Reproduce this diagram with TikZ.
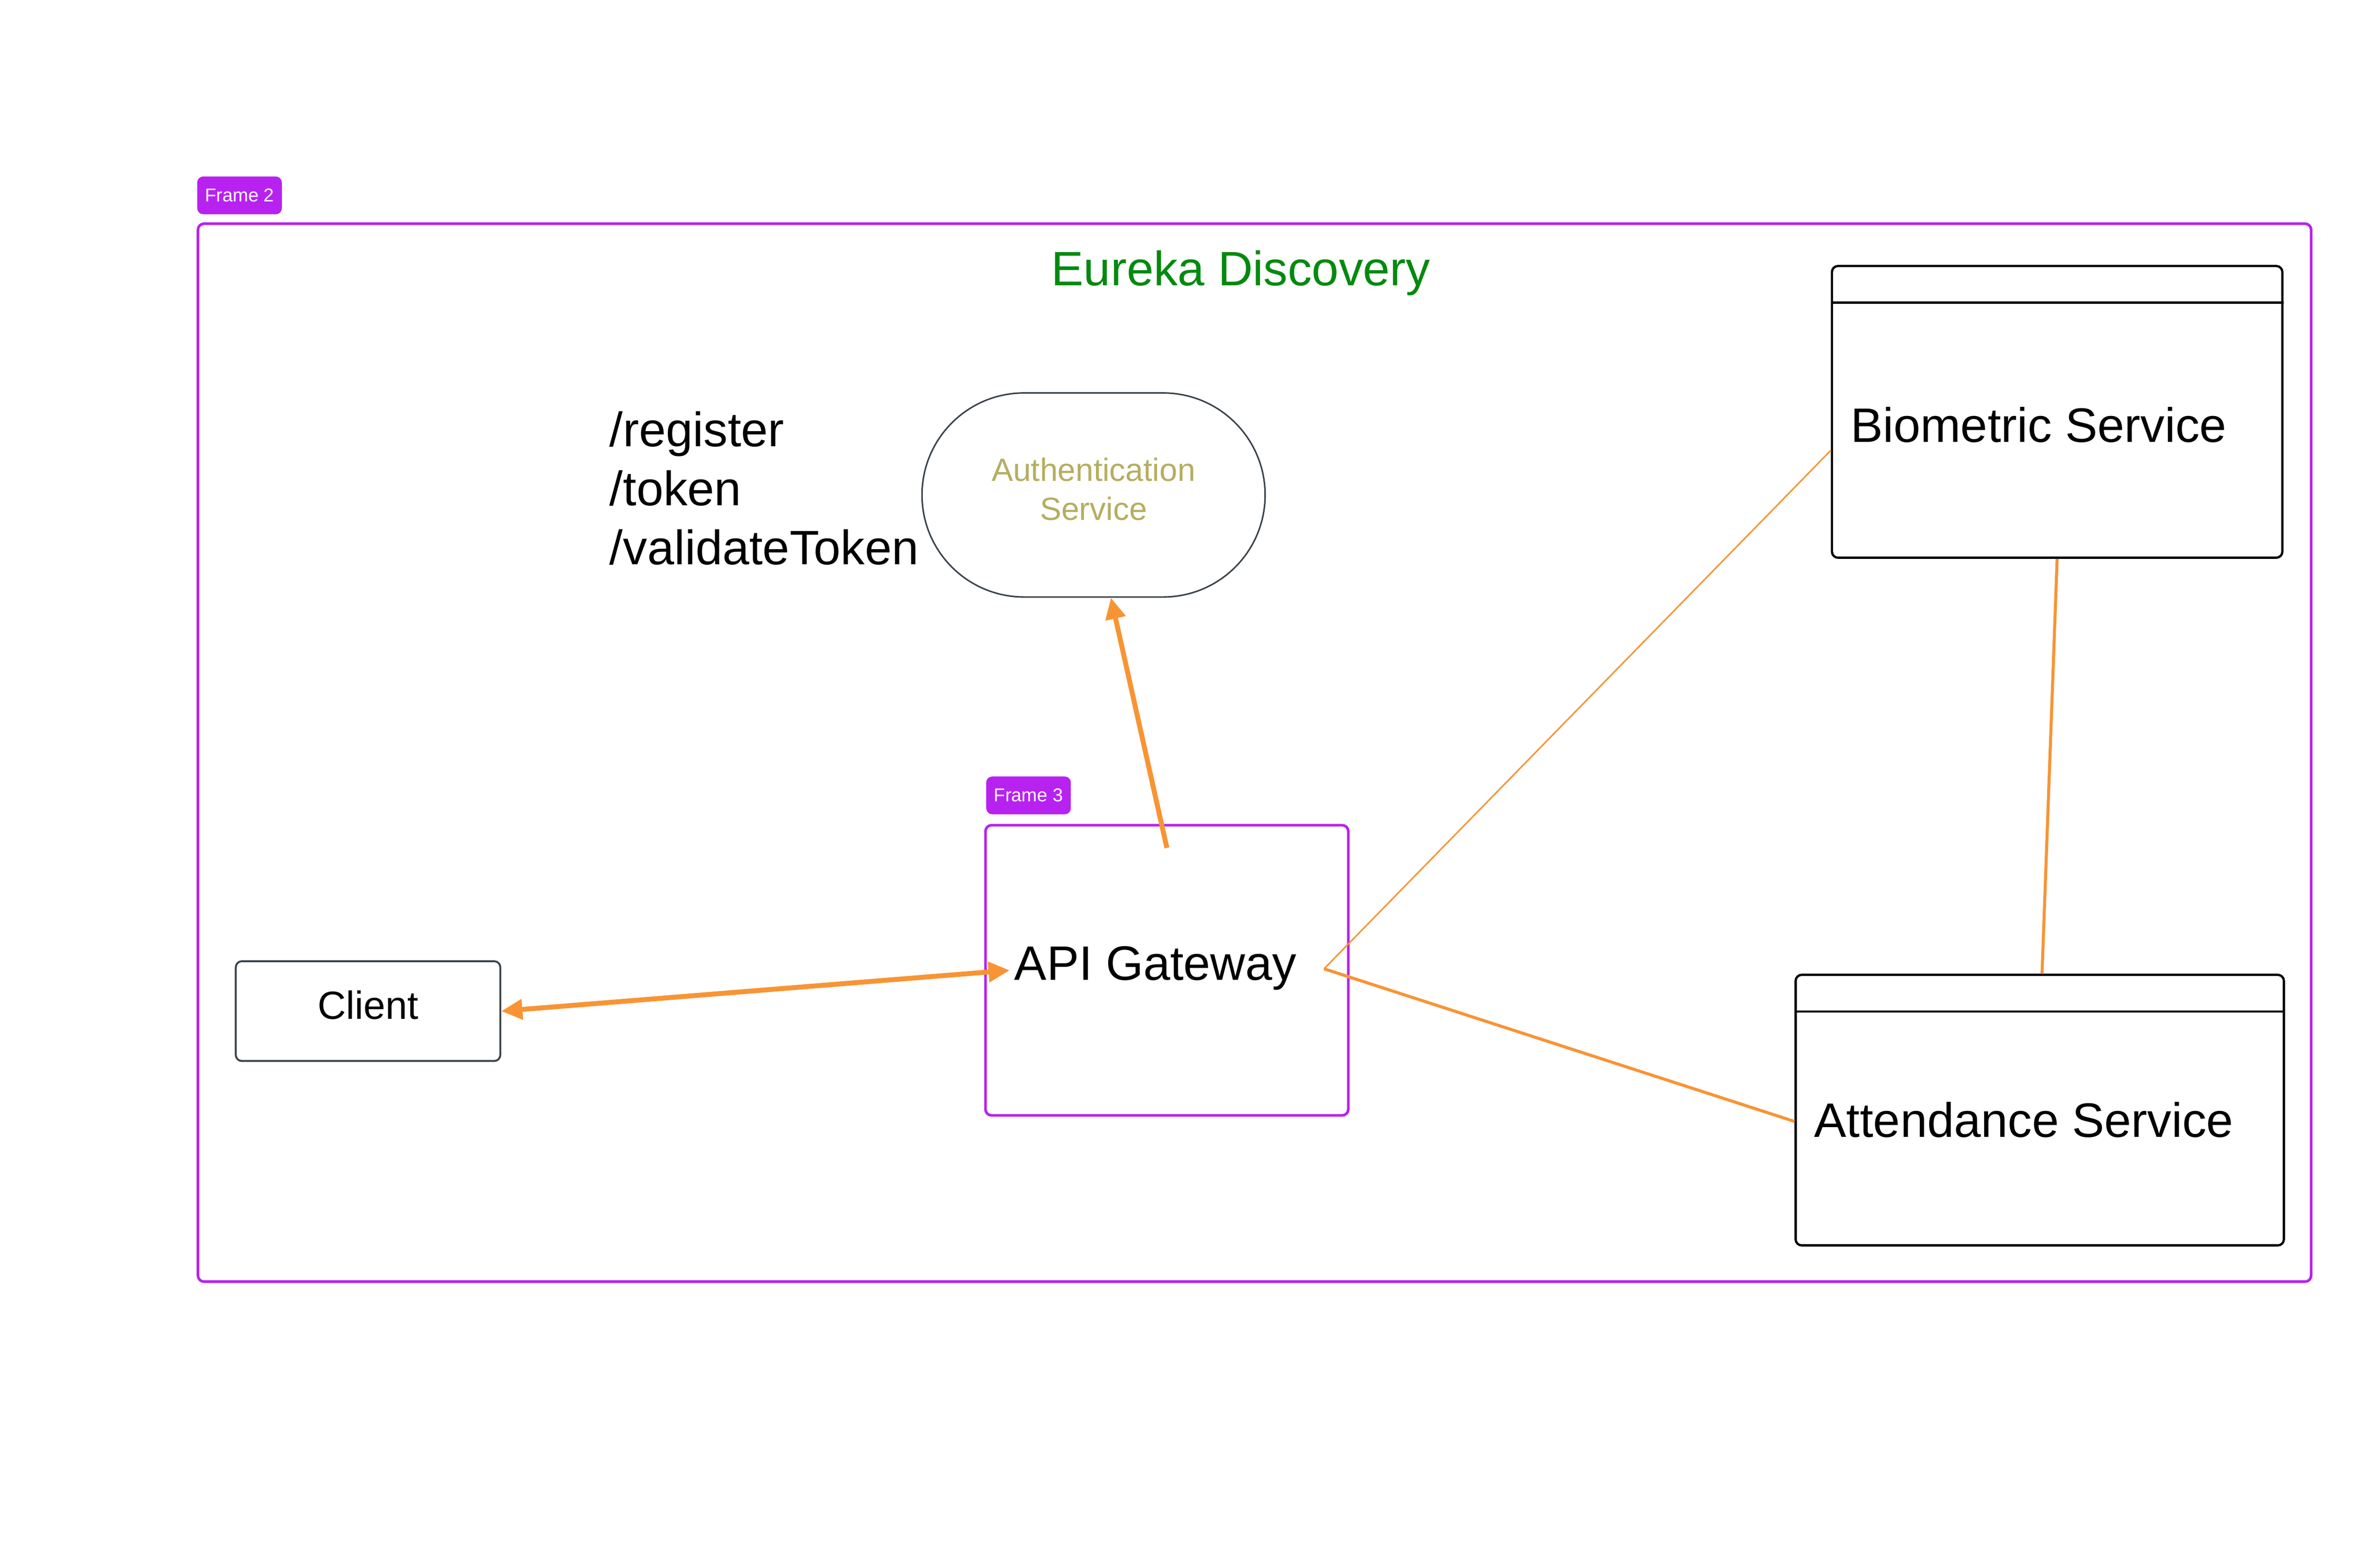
\documentclass[tikz,border=0pt]{standalone}
\usepackage{fontspec}
\setmainfont{Liberation Sans}
\usetikzlibrary{positioning,arrows.meta}
\definecolor{framepurple}{RGB}{184,34,240}
\definecolor{linkorange}{RGB}{248,148,52}
\definecolor{eurekagreen}{RGB}{3,138,14}
\definecolor{authtext}{RGB}{181,174,96}
\definecolor{boxgray}{RGB}{58,66,75}
\tikzset{framebox/.style={draw=framepurple, line width=0.35mm, rounded corners=0.8mm, inner sep=0pt},
frametag/.style={fill=framepurple, rounded corners=0.8mm, text=white, font=\fontsize{7}{8}\selectfont, minimum width=11.2mm, minimum height=5mm, inner sep=0pt},
svcbox/.style={draw=black, line width=0.3mm, rounded corners=0.8mm, inner sep=0pt},
bigtext/.style={font=\fontsize{18.2}{22.2}\selectfont, inner sep=0pt},
link/.style={draw=linkorange, line width=0.4mm},
flow/.style={draw=linkorange, line width=0.65mm, >={Triangle[length=2.8mm,width=2.6mm]}}}

\begin{document}
\begin{tikzpicture}[x=0.2mm,y=-0.2mm]
\useasboundingbox (0,0) rectangle (1568,1037.2);
\node[framebox, minimum width=279.6mm, minimum height=140mm] (frametwo) at (830,498) {};
\node[frametag, above right=1mm and 0mm of frametwo.north west, anchor=south west] (tagtwo) {Frame 2};
\node[bigtext, text=eurekagreen, anchor=base] (eureka) at (821,189) {Eureka Discovery};
\node[bigtext, align=left, anchor=west] (routes) at (403,323) {/register\\/token\\/validateToken};
\node[draw=boxgray, line width=0.2mm, rounded corners=13.5mm, minimum width=45.4mm, minimum height=27mm, align=center, text depth=1.6mm, text=authtext, font=\fontsize{12.1}{14.8}\selectfont] (auth) at (723.5,327.5) {Authentication\\Service};
\node[framebox, minimum width=48mm, minimum height=38.4mm] (gateway) at (772,642) {};
\node[frametag, above right=1.2mm and 0.2mm of gateway.north west, anchor=south west] (tagthree) {Frame 3};
\node[bigtext, anchor=base] (gwlabel) at (764.5,648.5) {API Gateway};
\node[draw=boxgray, line width=0.25mm, rounded corners=0.8mm, minimum width=35mm, minimum height=13.2mm, text depth=1.6mm, font=\fontsize{14.8}{17}\selectfont] (client) at (243.5,669) {Client};
\node[svcbox, minimum width=59.6mm, minimum height=38.6mm] (bio) at (1361,272.5) {};
\draw[line width=0.3mm] ([yshift=-5mm]bio.north west) -- ([yshift=-5mm]bio.north east);
\node[bigtext, anchor=base west] (biolabel) at (1224,292.5) {Biometric Service};
\node[svcbox, minimum width=64.6mm, minimum height=35.8mm] (att) at (1349.5,734.5) {};
\draw[line width=0.3mm] ([yshift=-5mm]att.north west) -- ([yshift=-5mm]att.north east);
\node[bigtext, anchor=base west] (attlabel) at (1200,752.5) {Attendance Service};
\coordinate (gwtop) at (772,561);
\coordinate (gwin) at (668,642);
\coordinate (gwout) at (876,641);
\draw[flow,->] (gwtop) -- ([xshift=2.3mm]auth.south);
\draw[flow,<->] (client.east) -- (gwin);
\draw[link, line width=0.2mm] (gwout) -- ([yshift=-5.1mm]bio.west);
\draw[link] (gwout) -- ([yshift=-1.5mm]att.west);
\draw[link] (bio.south) -- ([xshift=0.3mm]att.north);
\end{tikzpicture}
\end{document}
